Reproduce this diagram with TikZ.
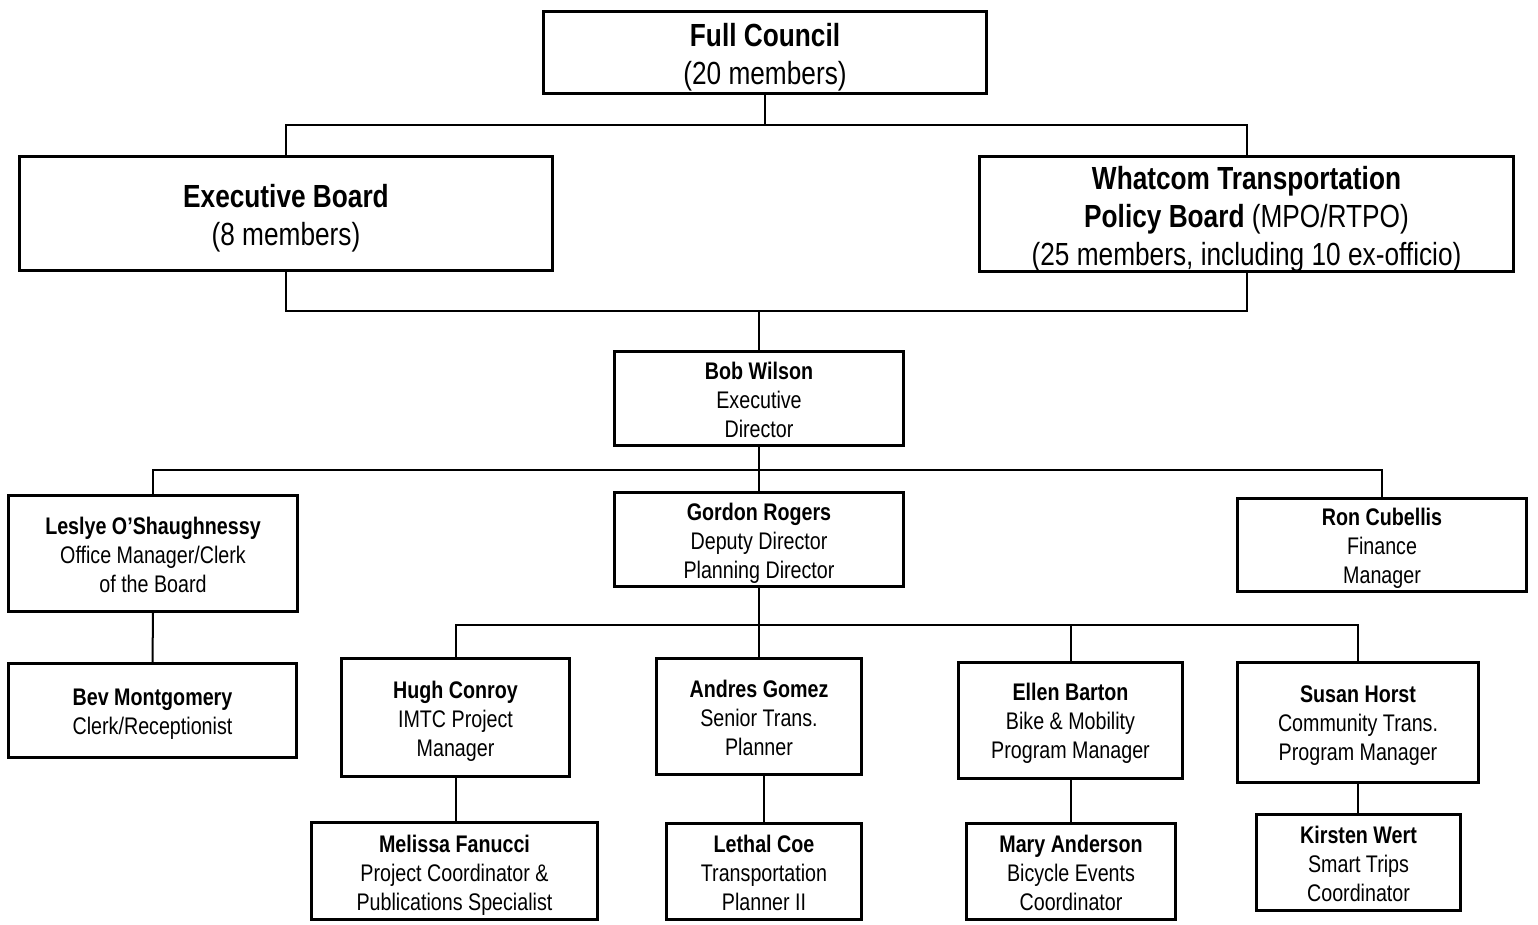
\documentclass[tikz,border=0pt]{standalone}
\usepackage{fontspec}
\setmainfont[FakeStretch=0.82]{Liberation Sans}
\usetikzlibrary{calc}
\tikzset{
  orgbox/.style={draw=black, line width=3pt, fill=white, inner sep=0pt},
  txt/.style={inner sep=0pt, align=center, font=\fontsize{24}{29}\selectfont},
  bigtxt/.style={inner sep=0pt, align=center, font=\fontsize{32}{38}\selectfont},
  link/.style={draw=black, line width=2pt}
}
\begin{document}
\begin{tikzpicture}[x=1pt,y=-1pt]
\useasboundingbox (0,0) rectangle (1538,924);
% top level
\node[orgbox, minimum width=443, minimum height=82] (fc) at (765,52.5) {};
\node[bigtxt] (fct) at ([yshift=-5pt]fc.center) {\textbf{Full Council}\\(20 members)};
\node[orgbox, minimum width=533, minimum height=114] (eb) at (286,213.5) {};
\node[bigtxt] (ebtx) at ([yshift=-5pt]eb.center) {\textbf{Executive Board}\\(8 members)};
\node[orgbox, minimum width=534, minimum height=115] (wt) at (1246.5,214) {};
\node[bigtxt] (wtt) at ([yshift=-5pt]wt.center) {\textbf{Whatcom Transportation}\\\textbf{Policy Board} (MPO/RTPO)\\(25 members, including 10 ex-officio)};
% director level
\node[orgbox, minimum width=289, minimum height=94] (bw) at (759,398.5) {};
\node[txt] (bwt) at ([yshift=-1pt]bw.center) {\textbf{Bob Wilson}\\Executive\\Director};
\node[orgbox, minimum width=289, minimum height=116] (lo) at (153,553.5) {};
\node[txt] (lot) at ([yshift=-1.5pt]lo.center) {\textbf{Leslye O’Shaughnessy}\\Office Manager/Clerk\\of the Board};
\node[orgbox, minimum width=289, minimum height=94] (gr) at (759,539.5) {};
\node[txt] (grt) at ([yshift=-4pt]gr.center) {\textbf{Gordon Rogers}\\Deputy Director\\Planning Director};
\node[orgbox, minimum width=289, minimum height=93] (rc) at (1382,545) {};
\node[txt] (rct) at ([yshift=-3pt]rc.center) {\textbf{Ron Cubellis}\\Finance\\Manager};
\node[orgbox, minimum width=288, minimum height=94] (bm) at (152.5,710.5) {};
\node[txt] (bmt) at ([yshift=-4pt]bm.center) {\textbf{Bev Montgomery}\\Clerk/Receptionist};
% managers
\node[orgbox, minimum width=228, minimum height=118] (hc) at (455.5,717.5) {};
\node[txt] (hct) at ([yshift=-4pt]hc.center) {\textbf{Hugh Conroy}\\IMTC Project\\Manager};
\node[orgbox, minimum width=205, minimum height=116] (ag) at (759,716.5) {};
\node[txt] (agt) at ([yshift=-1.5pt]ag.center) {\textbf{Andres Gomez}\\Senior Trans.\\Planner};
\node[orgbox, minimum width=224, minimum height=116] (ebn) at (1070.5,720.5) {};
\node[txt] (ebnt) at ([yshift=-3pt]ebn.center) {\textbf{Ellen Barton}\\Bike \& Mobility\\Program Manager};
\node[orgbox, minimum width=241, minimum height=120] (sh) at (1358,722.5) {};
\node[txt] (sht) at ([yshift=-3pt]sh.center) {\textbf{Susan Horst}\\Community Trans.\\Program Manager};
% staff
\node[orgbox, minimum width=286, minimum height=97] (mf) at (454.5,871) {};
\node[txt] (mft) at ([yshift=-4pt]mf.center) {\textbf{Melissa Fanucci}\\Project Coordinator \&\\Publications Specialist};
\node[orgbox, minimum width=195, minimum height=96] (lc) at (764,871.5) {};
\node[txt] (lct) at ([yshift=-1.5pt]lc.center) {\textbf{Lethal Coe}\\Transportation\\Planner II};
\node[orgbox, minimum width=209, minimum height=96] (ma) at (1071,871.5) {};
\node[txt] (mat) at ([yshift=-1.5pt]ma.center) {\textbf{Mary Anderson}\\Bicycle Events\\Coordinator};
\node[orgbox, minimum width=204, minimum height=96] (kw) at (1358.5,862.5) {};
\node[txt] (kwt) at ([yshift=-1.5pt]kw.center) {\textbf{Kirsten Wert}\\Smart Trips\\Coordinator};
% junctions
\coordinate (j1) at (765,125);
\coordinate (j2) at (759,311);
\coordinate (j3) at (759,470);
\coordinate (j4) at (759,625);
% connectors
\draw[link] (fc.south) -- (j1);
\draw[link] (eb.north) |- (j1) -| (wt.north);
\draw[link] (eb.south) |- (j2) -| (wt.south);
\draw[link] (j2) -- (bw.north);
\draw[link] (bw.south) -- (gr.north);
\draw[link] (lo.north) |- (j3) -| (rc.north);
\draw[link] (lo.south) -- (bm.north);
\draw[link] (gr.south) -- (j4);
\draw[link] (hc.north) |- (j4) -| (sh.north);
\draw[link] (j4) -- (ag.north);
\draw[link] (ebn.north) -- (ebn.north |- j4);
\draw[link] (hc.south) -- (mf.north -| hc.south);
\draw[link] (lc.north) -- (lc.north |- ag.south);
\draw[link] (ma.north) -- (ma.north |- ebn.south);
\draw[link] (sh.south) -- (sh.south |- kw.north);
\end{tikzpicture}
\end{document}
